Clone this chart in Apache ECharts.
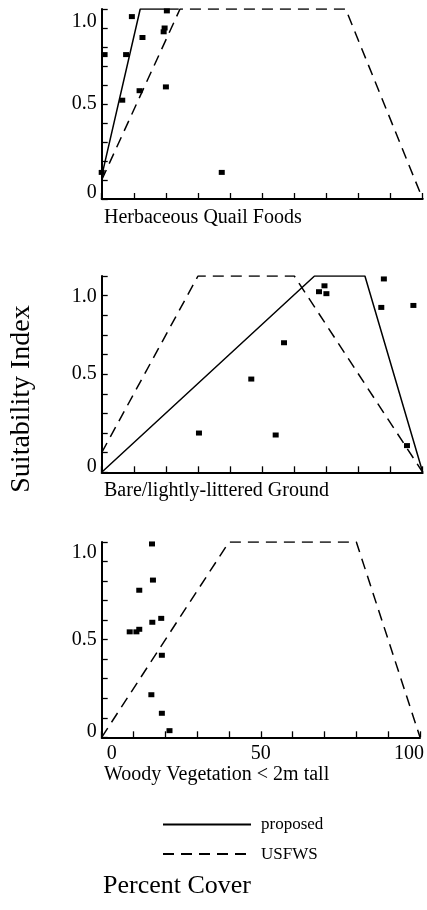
<!DOCTYPE html>
<html>
<head>
<meta charset="utf-8">
<title>Suitability Index</title>
<script src="https://cdn.jsdelivr.net/npm/echarts@6/dist/echarts.min.js"></script>
<style>
    html, body { margin: 0; padding: 0; background: #fff; }
    #chart { width: 427px; height: 910px; }
</style>
</head>
<body>
<div id="chart"></div>
<script>
    // panel names, tick labels
    var panelTitles = ['Herbaceous Quail Foods', 'Bare/lightly-littered Ground', 'Woody Vegetation < 2m tall'];
    var xTickValues = [0, 50, 100];
    var xTickText = ['0', '50', '100'];
    var yTickValues = [0, 0.5, 1];
    var yTickText = ['0', '0.5', '1.0'];

    // herbaceous quail foods
    var herbProposed = [[0, 0.12], [12, 1], [24, 1]];
    var herbUsfws = [[0, 0.1], [24.4, 1], [76, 1], [100, 0]];
    var herbPoints = [[0, 0.14], [0.9, 0.76], [6.4, 0.52], [7.6, 0.76], [9.4, 0.96], [11.8, 0.57],
        [12.7, 0.85], [19.3, 0.88], [19.6, 0.9], [20, 0.59], [20.3, 0.99], [37.4, 0.14]];

    // bare / lightly-littered ground
    var bareProposed = [[0, 0], [66.3, 1], [82, 1], [100, 0]];
    var bareUsfws = [[0, 0.1], [30, 1], [60, 1], [100, 0]];
    var barePoints = [[30.3, 0.2], [46.6, 0.475], [54.2, 0.19], [56.8, 0.66], [67.7, 0.92], [69.4, 0.95],
        [70, 0.91], [87.1, 0.84], [87.9, 0.985], [95.1, 0.136], [97.1, 0.85]];

    // woody vegetation < 2m tall (no proposed curve)
    var woodyProposed = [];
    var woodyUsfws = [[0, 0], [40, 1], [80, 1], [100, 0]];
    var woodyPoints = [[8.8, 0.54], [10.9, 0.54], [11.8, 0.553], [11.8, 0.753], [15.6, 0.218], [15.8, 0.99],
        [15.9, 0.589], [16.1, 0.805], [18.7, 0.609], [18.9, 0.42], [18.9, 0.123], [21.3, 0.034]];

    var proposedSets = [herbProposed, bareProposed, woodyProposed];
    var usfwsSets = [herbUsfws, bareUsfws, woodyUsfws];
    var pointSets = [herbPoints, barePoints, woodyPoints];

    var font = 'Liberation Serif, Times New Roman, serif';
    var ink = '#000';
    var grids = [
        { left: 101.7, width: 321, top: 9, height: 190 },
        { left: 101.7, width: 321, top: 276, height: 196.3 },
        { left: 101.7, width: 321, top: 542, height: 195.3 }
    ];
    var titleTops = [208, 481, 765];
    // the printed "1.0" sits a little below the top of each axis
    var topLabelPad = [26, 42, 22];

    var chart = echarts.init(document.getElementById('chart'), null, { renderer: 'canvas' });

    var xAxes = [], yAxes = [], series = [], titles = [];
    for (var i = 0; i < 3; i++) {
        xAxes.push({
            gridIndex: i,
            type: 'value',
            min: 0,
            max: 100,
            interval: 50,
            axisLine: { lineStyle: { color: ink, width: 2 } },
            axisTick: { inside: true, length: 6, lineStyle: { color: ink, width: 1.3 } },
            minorTick: { show: true, splitNumber: 5, length: 6, lineStyle: { color: ink, width: 1.3 } },
            splitLine: { show: false },
            axisLabel: {
                show: i === 2,
                margin: 6,
                color: ink,
                fontFamily: font,
                fontSize: 20,
                formatter: function (v) {
                    var t = xTickText[xTickValues.indexOf(v)];
                    if (v === 0) return '{l|' + t + '}';
                    if (v === 100) return '{r|' + t + '}';
                    return t;
                },
                rich: {
                    l: { fontFamily: font, fontSize: 20, color: ink, padding: [0, 0, 0, 20] },
                    r: { fontFamily: font, fontSize: 20, color: ink, padding: [0, 22, 0, 0] }
                }
            }
        });
        yAxes.push({
            gridIndex: i,
            type: 'value',
            min: 0,
            max: 1,
            interval: 0.5,
            axisLine: { show: true, lineStyle: { color: ink, width: 2 } },
            axisTick: { show: true, inside: true, length: 6, lineStyle: { color: ink, width: 1.3 } },
            minorTick: { show: true, splitNumber: 5, length: 6, lineStyle: { color: ink, width: 1.3 } },
            splitLine: { show: false },
            axisLabel: {
                margin: 5,
                color: ink,
                fontFamily: font,
                fontSize: 20,
                formatter: function (v) {
                    var t = yTickText[yTickValues.indexOf(v)];
                    if (v === 0) return '{b|' + t + '}';
                    if (v === 1) return '{t|' + t + '}';
                    return t;
                },
                rich: {
                    t: { fontFamily: font, fontSize: 20, color: ink, padding: [topLabelPad[i], 0, 0, 0] },
                    b: { fontFamily: font, fontSize: 20, color: ink, padding: [0, 0, 12, 0] }
                }
            }
        });
        titles.push({
            text: panelTitles[i],
            left: 104,
            top: titleTops[i],
            padding: 0,
            textStyle: { fontFamily: font, fontSize: 20, fontWeight: 'normal', color: ink }
        });
        if (proposedSets[i].length) {
            series.push({
                name: 'proposed',
                type: 'line',
                xAxisIndex: i,
                yAxisIndex: i,
                symbol: 'none',
                lineStyle: { color: ink, width: 1.5, type: 'solid' },
                itemStyle: { color: ink },
                data: proposedSets[i]
            });
        }
        series.push({
            name: 'USFWS',
            type: 'line',
            xAxisIndex: i,
            yAxisIndex: i,
            symbol: 'none',
            lineStyle: { color: ink, width: 1.5, type: [11, 7] },
            itemStyle: { color: ink },
            data: usfwsSets[i]
        });
        series.push({
            name: 'observed',
            type: 'scatter',
            xAxisIndex: i,
            yAxisIndex: i,
            symbol: 'rect',
            symbolSize: [6, 5],
            itemStyle: { color: ink, opacity: 1 },
            z: 5,
            data: pointSets[i]
        });
    }

    chart.setOption({
        animation: false,
        backgroundColor: '#fff',
        title: titles,
        grid: grids,
        xAxis: xAxes,
        yAxis: yAxes,
        legend: {
            orient: 'vertical',
            left: 162,
            top: 816,
            padding: 0,
            itemWidth: 88,
            itemHeight: 14,
            itemGap: 12.6,
            itemStyle: { opacity: 0 },
            data: ['proposed', 'USFWS'],
            textStyle: { fontFamily: font, fontSize: 17, color: ink, padding: [0, 0, 0, 5] }
        },
        graphic: [
            {
                type: 'text',
                x: 22,
                y: 399,
                rotation: Math.PI / 2,
                style: {
                    text: 'Suitability Index',
                    font: '28px ' + font,
                    fill: ink,
                    align: 'center',
                    verticalAlign: 'middle'
                }
            },
            {
                type: 'text',
                x: 177,
                y: 886,
                style: {
                    text: 'Percent Cover',
                    font: '26px ' + font,
                    fill: ink,
                    align: 'center',
                    verticalAlign: 'middle'
                }
            }
        ],
        series: series
    });
</script>
</body>
</html>
